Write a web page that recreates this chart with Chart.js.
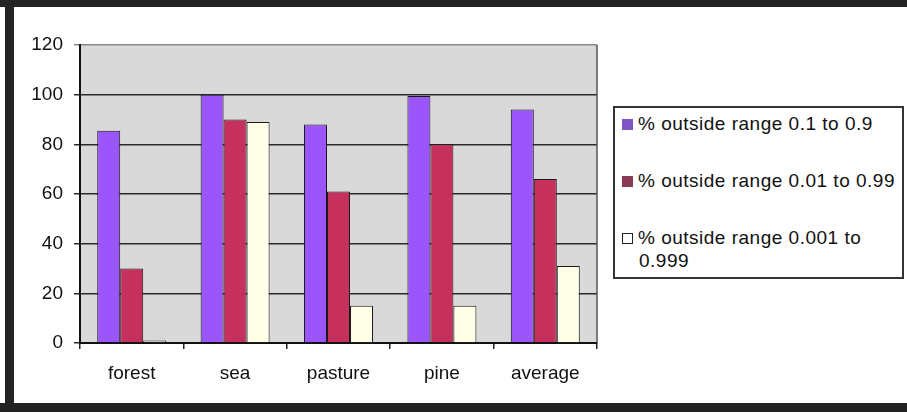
<!DOCTYPE html>
<html>
<head>
<meta charset="utf-8">
<script src="https://cdn.jsdelivr.net/npm/chart.js@4/dist/chart.umd.min.js"></script>
<style>
  html, body { margin: 0; padding: 0; background: #fff; }
  #wrap { position: relative; width: 907px; height: 412px; overflow: hidden; background: #fff; }
  #chart { position: absolute; left: 0; top: 0; }
  .frame { position: absolute; background: #232323; }
  #legend {
    position: absolute; left: 613px; top: 106px; width: 287px; height: 169px;
    border: 2px solid #333; background: #fff; box-sizing: content-box;
    font-family: "Liberation Sans", Arial, sans-serif; font-size: 19px; color: #111;
    letter-spacing: 0.5px;
  }
  .item { position: absolute; left: 7px; right: 2px; line-height: 23px; white-space: nowrap; }
  .swatch { display: inline-block; width: 11px; height: 11px; margin-right: 5px; vertical-align: 0px; box-sizing: border-box; }
  .cont { padding-left: 17px; }
</style>
</head>
<body>
<div id="wrap">
  <canvas id="chart" width="907" height="412"></canvas>
  <div class="frame" style="left:0;top:0;width:907px;height:7px;"></div>
  <div class="frame" style="left:5px;top:0;width:9px;height:412px;"></div>
  <div class="frame" style="left:0;top:403px;width:907px;height:9px;"></div>
  <div id="legend"></div>
</div>
<script>
// Sites compared, and the share of values falling outside each probability range
const categories = ["forest", "sea", "pasture", "pine", "average"];
const seriesNames = [
  "% outside range 0.1 to 0.9",
  "% outside range 0.01 to 0.99",
  "% outside range 0.001 to 0.999"
];
const outside01to09 = [85.5, 100, 88, 99.5, 94];
const outside001to099 = [30, 90, 61, 80, 66];
const outside0001to0999 = [1, 89, 15, 15, 31];
const yTicks = [0, 20, 40, 60, 80, 100, 120];

const fills = ["#9a56fb", "#c6305c", "#ffffe8"];
const legendSwatch = ["#7e57c2", "#8b3a56", "#ffffff"];

// plot area: gray panel plus a frame on the right
const panel = {
  id: "panel",
  beforeDraw(chart) {
    const { ctx, chartArea: a } = chart;
    ctx.save();
    ctx.fillStyle = "#d9d9d9";
    ctx.fillRect(a.left, a.top, a.right - a.left, a.bottom - a.top);
    ctx.restore();
  },
  afterDatasetsDraw(chart) {
    const { ctx, chartArea: a } = chart;
    ctx.save();
    ctx.strokeStyle = "#555";
    ctx.lineWidth = 1.5;
    ctx.beginPath();
    ctx.moveTo(a.right, a.top);
    ctx.lineTo(a.right, a.bottom);
    ctx.stroke();
    ctx.restore();
  }
};

const font = { family: "'Liberation Sans', Arial, sans-serif", size: 19 };

const chart = new Chart(document.getElementById("chart"), {
  type: "bar",
  data: {
    labels: categories,
    datasets: [outside01to09, outside001to099, outside0001to0999].map((d, i) => ({
      label: seriesNames[i],
      data: d,
      backgroundColor: fills[i],
      borderColor: "#1a1a1a",
      borderWidth: 1,
      borderSkipped: "bottom",
      categoryPercentage: 0.667,
      barPercentage: 1
    }))
  },
  options: {
    responsive: false,
    animation: false,
    layout: { padding: { left: 0, top: 45, right: 310, bottom: 0 } },
    plugins: { legend: { display: false }, tooltip: { enabled: false } },
    scales: {
      x: {
        afterFit(s) { s.height = 69; },
        grid: { drawOnChartArea: false, drawTicks: true, tickLength: 6, offset: true, color: "#222", lineWidth: 1.5 },
        border: { display: true, color: "#111", width: 2 },
        ticks: { color: "#111", font, padding: 13 }
      },
      y: {
        min: 0, max: 120,
        afterFit(s) { s.width = 80; },
        afterBuildTicks(s) { s.ticks = yTicks.map(v => ({ value: v })); },
        grid: {
          color: c => (c.tick && c.tick.value === 120 ? "#8a8a8a" : "#2a2a2a"),
          lineWidth: 1.5, tickLength: 6, drawTicks: true
        },
        border: { display: true, color: "#111", width: 2 },
        ticks: { color: "#111", font, padding: 11 }
      }
    }
  },
  plugins: [panel]
});

// legend box built from the chart's own datasets
const legend = document.getElementById("legend");
const rows = [
  { top: 4, lines: [seriesNames[0]] },
  { top: 61, lines: [seriesNames[1]] },
  { top: 118, lines: ["% outside range 0.001 to", "0.999"] }
];
chart.data.datasets.forEach((ds, i) => {
  const div = document.createElement("div");
  div.className = "item";
  div.style.top = rows[i].top + "px";
  const sw = document.createElement("span");
  sw.className = "swatch";
  sw.style.background = legendSwatch[i];
  if (i === 2) sw.style.border = "1px solid #222";
  div.appendChild(sw);
  div.appendChild(document.createTextNode(rows[i].lines[0]));
  for (let k = 1; k < rows[i].lines.length; k++) {
    const c = document.createElement("div");
    c.className = "cont";
    c.textContent = rows[i].lines[k];
    div.appendChild(c);
  }
  legend.appendChild(div);
});
</script>
</body>
</html>
